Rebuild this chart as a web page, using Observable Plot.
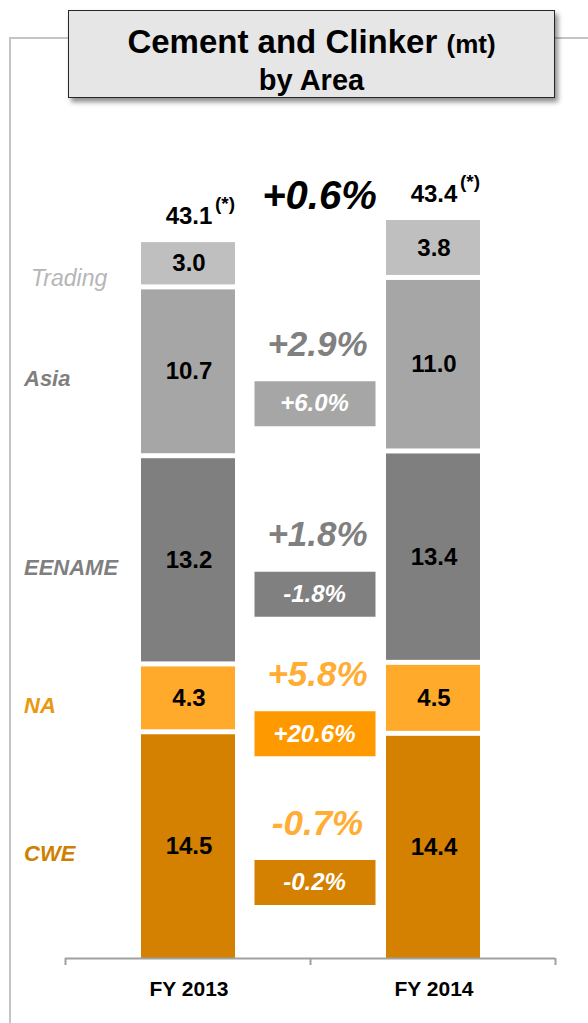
<!DOCTYPE html>
<html>
<head>
<meta charset="utf-8">
<script src="https://cdn.jsdelivr.net/npm/d3@7"></script>
<script src="https://cdn.jsdelivr.net/npm/@observablehq/plot@0.6"></script>
<style>
  body { margin: 0; background: #fff; font-family: "Liberation Sans", Arial, sans-serif; }
  #wrap { position: relative; width: 588px; height: 1023px; overflow: hidden; }
  #frame { position: absolute; left: 9px; top: 37px; width: 600px; height: 1000px;
           border-top: 2px solid #c4c4c4; border-left: 2px solid #c4c4c4; }
  #chart { position: absolute; left: 0; top: 0; }
  #title { position: absolute; left: 68px; top: 10px; width: 485px; height: 86px;
           background: #e6e6e6; border: 1px solid #262626;
           box-shadow: 3px 4px 5px rgba(0,0,0,0.45);
           text-align: center; font-weight: bold; color: #000; }
  #title .l1 { font-size: 33px; line-height: 36px; margin-top: 13px; }
  #title .l1 span { font-size: 26px; }
  #title .l2 { font-size: 29px; line-height: 36px; margin-top: 0px; }
</style>
</head>
<body>
<div id="wrap">
  <div id="frame"></div>
  <div id="chart"></div>
  <div id="title"><div class="l1">Cement and Clinker <span>(mt)</span></div><div class="l2">by Area</div></div>
</div>
<script>
// ---- data ----
const years = ["FY 2013", "FY 2014"];
const areas = ["CWE", "NA", "EENAME", "Asia", "Trading"]; // bottom to top
const fy2013 = [14.5, 4.3, 13.2, 10.7, 3.0];
const fy2014 = [14.4, 4.5, 13.4, 11.0, 3.8];
const totals = [43.1, 43.4];
const totalChange = "+0.6%";
const changeAreas = ["CWE", "NA", "EENAME", "Asia"];
const changeReported = ["-0.7%", "+5.8%", "+1.8%", "+2.9%"];
const changeLfl = ["-0.2%", "+20.6%", "-1.8%", "+6.0%"];

// ---- styles ----
const barColor = {CWE: "#d48000", NA: "#ffaa2b", EENAME: "#7f7f7f", Asia: "#a6a6a6", Trading: "#bfbfbf"};
const nameColor = {CWE: "#d08000", NA: "#eb960f", EENAME: "#7f7f7f", Asia: "#7f7f7f", Trading: "#b6b6b6"};
const bigColor = {CWE: "#ffad33", NA: "#ffad33", EENAME: "#808080", Asia: "#808080"};
const boxColor = {CWE: "#d48000", NA: "#ff9900", EENAME: "#808080", Asia: "#a6a6a6"};

// ---- derived tables ----
const series = [fy2013, fy2014];
const rows = [];
series.forEach((vals, i) => {
  let acc = 0;
  vals.forEach((v, j) => {
    rows.push({xi: i, year: years[i], area: areas[j], value: v, y1: acc, y2: acc + v});
    acc += v;
  });
});
const sums = series.map(vals => d3.sum(vals));
const totalRows = totals.map((t, i) => ({xi: i, total: t, top: sums[i]}));
const changeRows = changeAreas.map((a, k) => {
  const segs = rows.filter(r => r.area === a);
  const mid = d3.mean(segs, r => (r.y1 + r.y2) / 2);
  return {area: a, reported: changeReported[k], lfl: changeLfl[k], mid};
});
const firstBar = rows.filter(r => r.xi === 0);

const rectSymbol = {draw(ctx) { ctx.rect(-60.5, -22.5, 121, 45); }};
const inset = 5;

const chart = Plot.plot({
  width: 588,
  height: 1023,
  marginLeft: 65,
  marginRight: 33,
  marginTop: 215,
  marginBottom: 65,
  x: {type: "linear", domain: [0, 2], axis: null},
  y: {domain: [0, d3.max(sums)], axis: null},
  color: {type: "identity"},
  style: {fontFamily: "'Liberation Sans', Arial, sans-serif", background: "transparent", overflow: "visible"},
  marks: [
    Plot.rect(rows, {x1: d => d.xi, x2: d => d.xi + 1, y1: "y1", y2: "y2",
      fill: d => barColor[d.area], insetLeft: 76, insetRight: 75, insetTop: inset}),
    Plot.text(rows, {x: d => d.xi + 0.5, y: d => (d.y1 + d.y2) / 2, text: d => d.value.toFixed(1),
      dx: 1, dy: inset / 2, fontSize: 24, fontWeight: "bold", fill: "#000"}),
    // totals
    Plot.text(totalRows, {x: d => d.xi + 0.5, y: "top", text: d => d.total.toFixed(1),
      lineAnchor: "bottom", dx: 1, dy: -14, fontSize: 24, fontWeight: "bold", fill: "#000"}),
    Plot.text(totalRows, {x: d => d.xi + 0.5, y: "top", text: () => "(*)",
      textAnchor: "start", lineAnchor: "bottom", dx: 27, dy: -28, fontSize: 19, fontWeight: "bold", fill: "#000"}),
    Plot.text([totalChange], {x: () => 1, y: () => d3.max(sums), text: d => d,
      lineAnchor: "bottom", dx: 9, dy: -7, fontSize: 40, fontWeight: "bold", fontStyle: "italic", fill: "#000"}),
    // area names
    Plot.text(firstBar.filter(d => d.area === "Trading"), {x: d => d.xi + 0.5, y: d => (d.y1 + d.y2) / 2, text: "area",
      textAnchor: "start", dx: -157, dy: 17, fontSize: 23, fontStyle: "italic", fill: d => nameColor[d.area]}),
    Plot.text(firstBar.filter(d => d.area !== "Trading"), {x: d => d.xi + 0.5, y: d => (d.y1 + d.y2) / 2, text: "area",
      textAnchor: "start", dx: -164, dy: 10, fontSize: 22, fontWeight: "bold", fontStyle: "italic",
      fill: d => nameColor[d.area]}),
    // reported changes
    Plot.text(changeRows, {x: () => 1, y: "mid", text: "reported", dx: 7, dy: -21,
      fontSize: 35, fontWeight: "bold", fontStyle: "italic", fill: d => bigColor[d.area]}),
    // like-for-like boxes
    Plot.dot(changeRows, {x: () => 1, y: "mid", symbol: rectSymbol, r: 10, dx: 4.5, dy: 38,
      fill: d => boxColor[d.area], stroke: null}),
    Plot.text(changeRows, {x: () => 1, y: "mid", text: "lfl", dx: 4, dy: 38,
      fontSize: 24, fontWeight: "bold", fontStyle: "italic", fill: "#fff"}),
    // axis
    Plot.ruleY([0], {stroke: "#a0a0a0", strokeWidth: 2}),
    Plot.axisX({ticks: [0, 1, 2], tickSize: 7, tickFormat: () => "", stroke: "#a0a0a0", strokeWidth: 2}),
    Plot.text(years, {x: (d, i) => i + 0.5, y: () => 0, text: d => d, dx: 1, dy: 31,
      fontSize: 21, fontWeight: "bold", fill: "#000"})
  ]
});
document.getElementById("chart").appendChild(chart);
</script>
</body>
</html>
